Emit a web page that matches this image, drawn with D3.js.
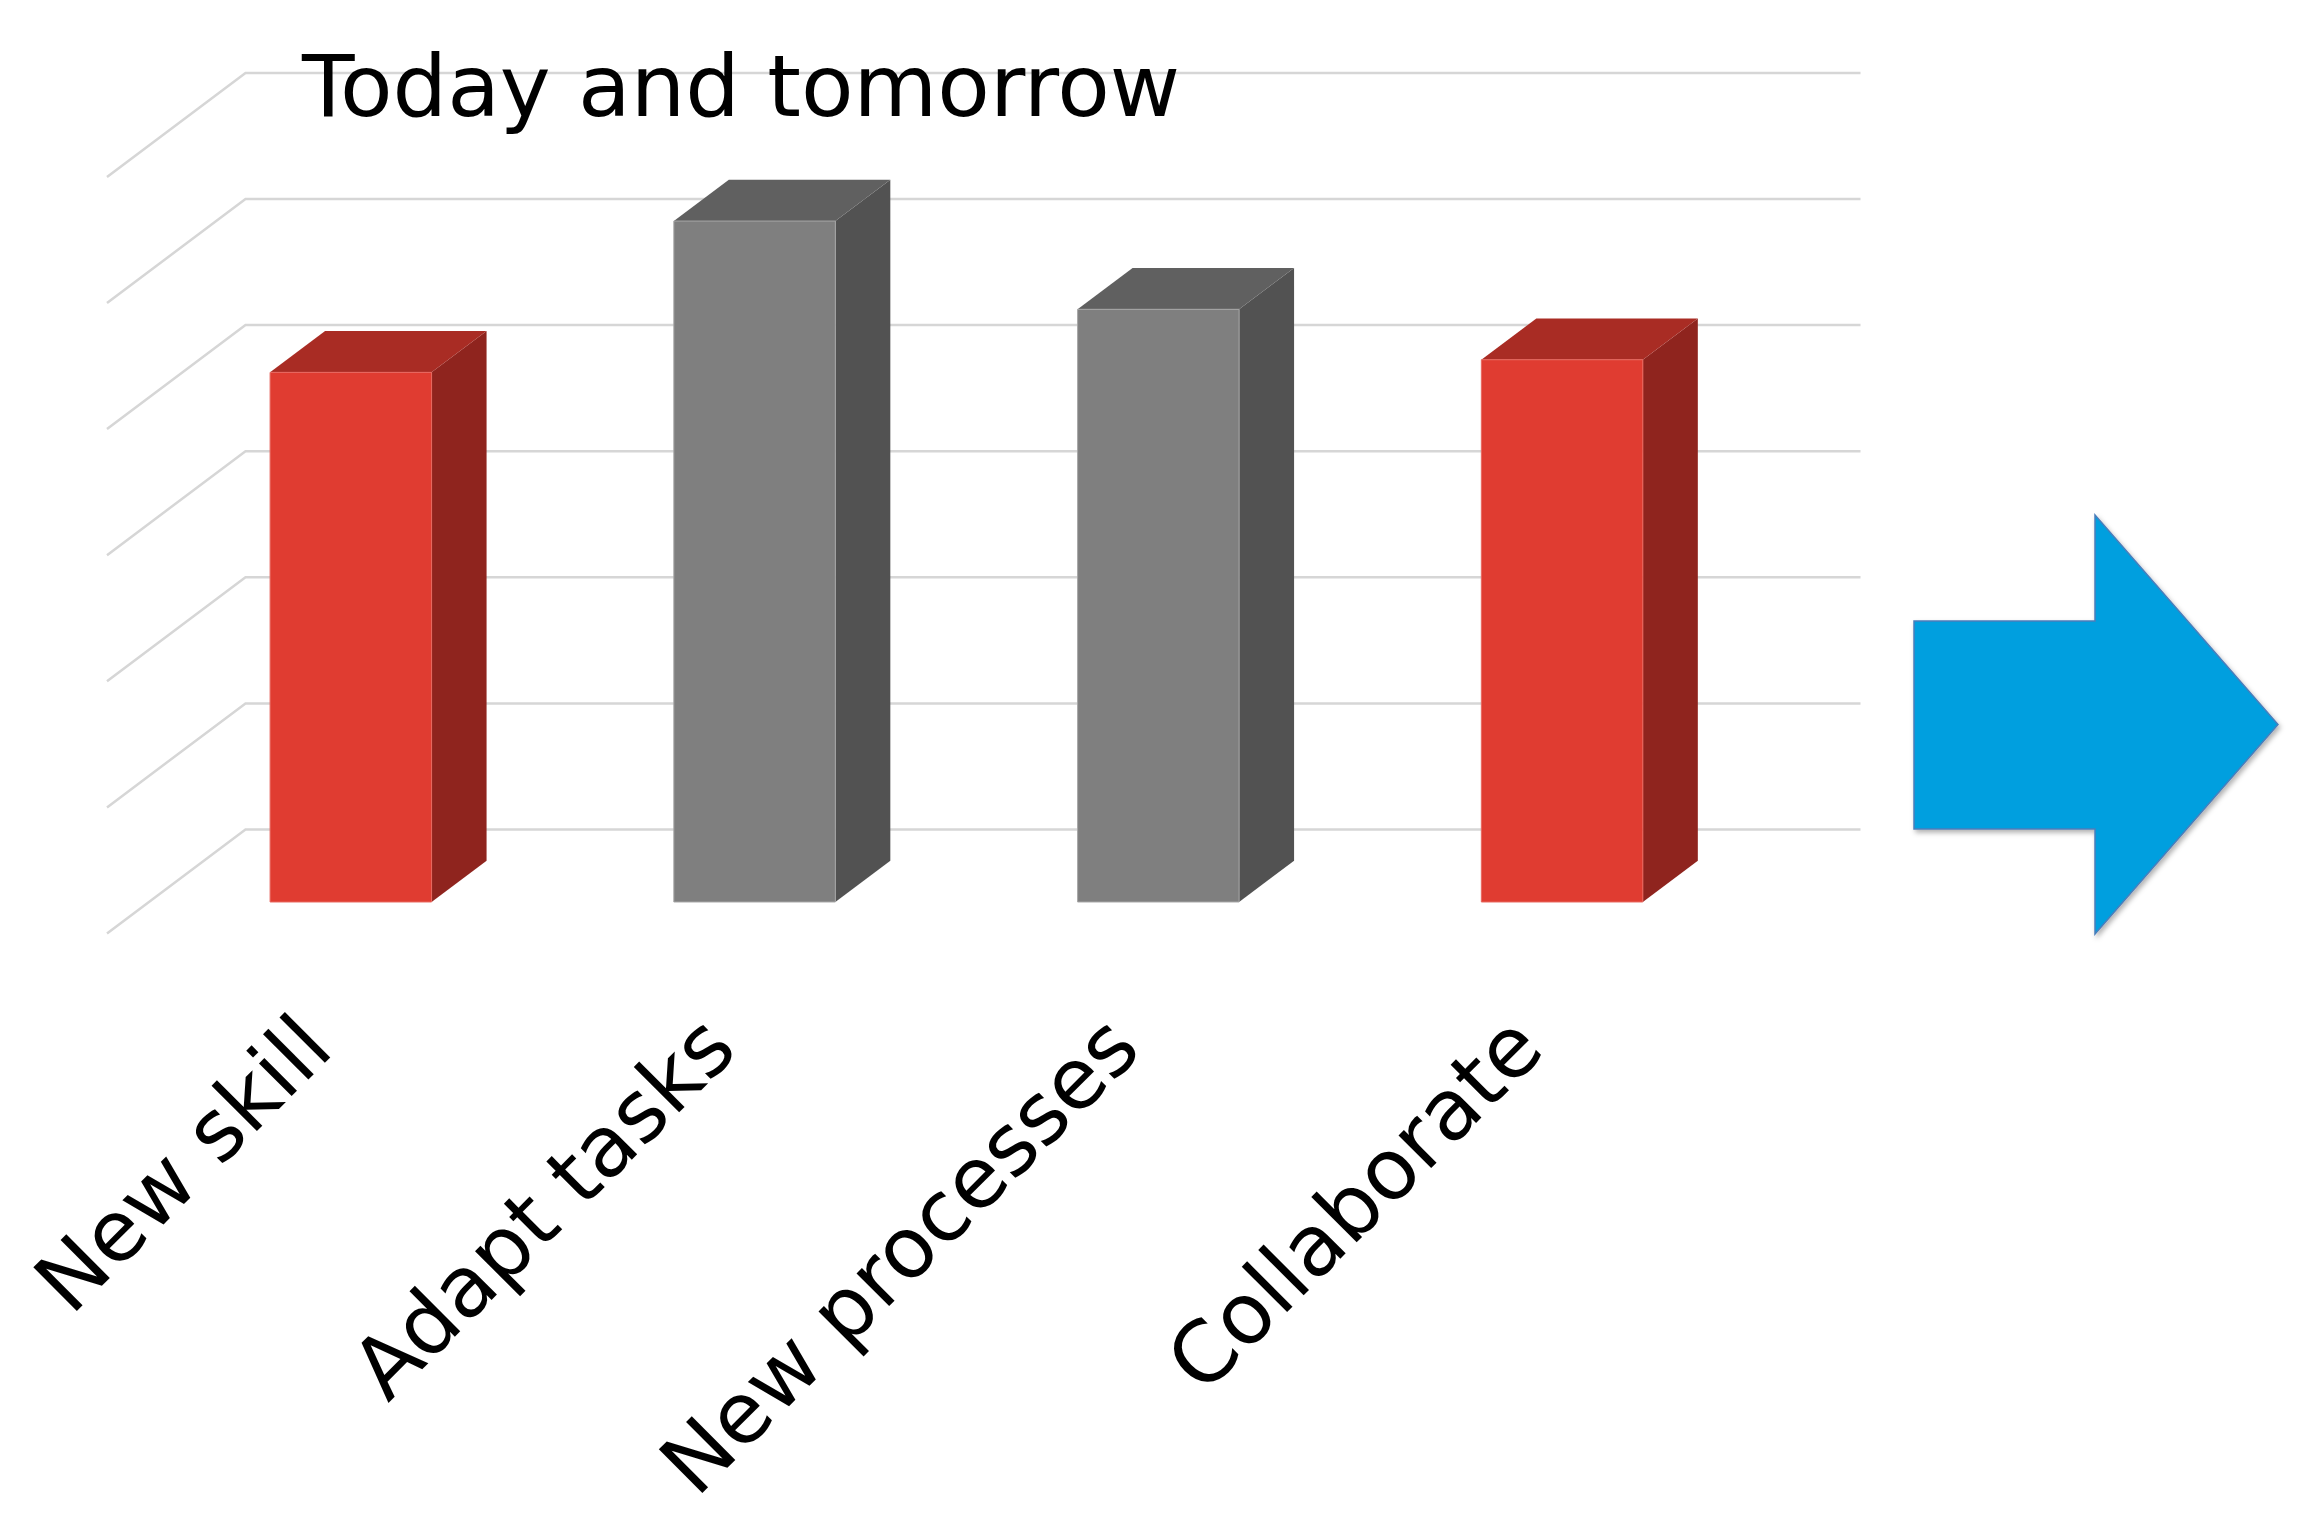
<!DOCTYPE html>
<html lang="en">
<head>
<meta charset="UTF-8">
<title>Today and tomorrow</title>
<script src="https://d3js.org/d3.v7.min.js"></script>
<style>
  html, body { margin: 0; padding: 0; background: #fff; }
  svg { display: block; font-family: "DejaVu Sans", Verdana, sans-serif; }
</style>
</head>
<body>

<div id="chart"></div>

<script>

// data
const categories = ["New skill", "Adapt tasks", "New processes", "Collaborate"];
const values = [4.2, 5.4, 4.7, 4.3];
const gridTicks = [0, 1, 2, 3, 4, 5, 6];
const title = "Today and tomorrow";

const width = 2302;
const height = 1514;

const svg = d3.select("#chart")
  .append("svg")
    .attr("width", width)
    .attr("height", height);

// oblique 3d frame: origin is the front-left corner of the floor
const origin = { x: 107, y: 933.5 };
const depth = { x: 138.5, y: -104 };   // z = 0 (front) -> z = 1 (back wall)
const plotWidth = 1615;
const barZ = [0.303, 0.70];            // bars sit in the middle of the floor

const x = d3.scaleBand()
  .domain(categories)
  .range([0, plotWidth])
  .paddingInner(0.6)
  .paddingOuter(0.3);

const y = d3.scaleLinear()
  .domain([0, 6])
  .range([0, 756.6]);

const color = d3.scaleOrdinal()
  .domain(categories)
  .range(["red", "gray", "gray", "red"]);

const shades = {
  red:  { front: "#e03c31", top: "#a92c24", side: "#8f241e", edge: "#e8685f" },
  gray: { front: "#7f7f7f", top: "#606060", side: "#525252", edge: "#a6a6a6" }
};

// project (x, value, depth) onto the screen
function P(xs, v, z) {
  return [origin.x + xs + z * depth.x, origin.y - y(v) + z * depth.y];
}

const line = d3.line();

// gridlines: back wall + left side wall
const grid = svg.append("g")
  .attr("fill", "none")
  .attr("stroke", "#d6d6d6")
  .attr("stroke-width", 2.5);

grid.selectAll(".wall")
  .data(gridTicks)
  .join("path")
    .attr("class", "wall")
    .attr("d", d => line([P(0, d, 0), P(0, d, 1), P(plotWidth, d, 1)]));

// bars
const bars = svg.append("g")
  .selectAll("g")
  .data(categories.map((c, i) => ({ cat: c, value: values[i] })))
  .join("g");

bars.append("path")   // right side
  .attr("fill", d => shades[color(d.cat)].side)
  .attr("d", d => {
    const x1 = x(d.cat) + x.bandwidth();
    return line([P(x1, 0, barZ[0]), P(x1, 0, barZ[1]), P(x1, d.value, barZ[1]), P(x1, d.value, barZ[0])]) + "Z";
  });

bars.append("path")   // top
  .attr("fill", d => shades[color(d.cat)].top)
  .attr("d", d => {
    const x0 = x(d.cat), x1 = x0 + x.bandwidth();
    return line([P(x0, d.value, barZ[0]), P(x0, d.value, barZ[1]), P(x1, d.value, barZ[1]), P(x1, d.value, barZ[0])]) + "Z";
  });

bars.append("path")   // front
  .attr("fill", d => shades[color(d.cat)].front)
  .attr("stroke", d => shades[color(d.cat)].edge)
  .attr("stroke-width", 1)
  .attr("d", d => {
    const x0 = x(d.cat), x1 = x0 + x.bandwidth();
    return line([P(x0, 0, barZ[0]), P(x0, d.value, barZ[0]), P(x1, d.value, barZ[0]), P(x1, 0, barZ[0])]) + "Z";
  });

// category labels, rotated
svg.append("g")
  .selectAll("text")
  .data(categories)
  .join("text")
    .attr("transform", d => {
      const p = P(x(d) + x.bandwidth() / 2, 0, barZ[0]);
      return "translate(" + (p[0] - 15) + "," + 1052 + ") rotate(-45)";
    })
    .attr("text-anchor", "end")
    .attr("font-size", 84.5)
    .attr("fill", "#000")
    .text(d => d);

// title
svg.append("text")
  .attr("x", 302)
  .attr("y", 116)
  .attr("font-size", 86)
  .attr("fill", "#000")
  .text(title);

// blue arrow on the right
const defs = svg.append("defs");
defs.append("filter")
    .attr("id", "shadow")
    .attr("x", "-10%").attr("y", "-10%")
    .attr("width", "130%").attr("height", "130%")
  .append("feDropShadow")
    .attr("dx", 2).attr("dy", 3)
    .attr("stdDeviation", 2.5)
    .attr("flood-color", "#000")
    .attr("flood-opacity", 0.3);

const arrow = { left: 1914, neck: 2095, tip: 2278, shaftTop: 621, shaftBottom: 829, headTop: 515, headBottom: 934 };
const mid = (arrow.headTop + arrow.headBottom) / 2;
svg.append("path")
  .attr("d", line([
    [arrow.left, arrow.shaftTop], [arrow.neck, arrow.shaftTop], [arrow.neck, arrow.headTop],
    [arrow.tip, mid], [arrow.neck, arrow.headBottom], [arrow.neck, arrow.shaftBottom],
    [arrow.left, arrow.shaftBottom]
  ]) + "Z")
  .attr("fill", "#009fdf")
  .attr("stroke", "#4a7ebb")
  .attr("stroke-width", 1.5)
  .attr("filter", "url(#shadow)");

</script>

</body>
</html>
